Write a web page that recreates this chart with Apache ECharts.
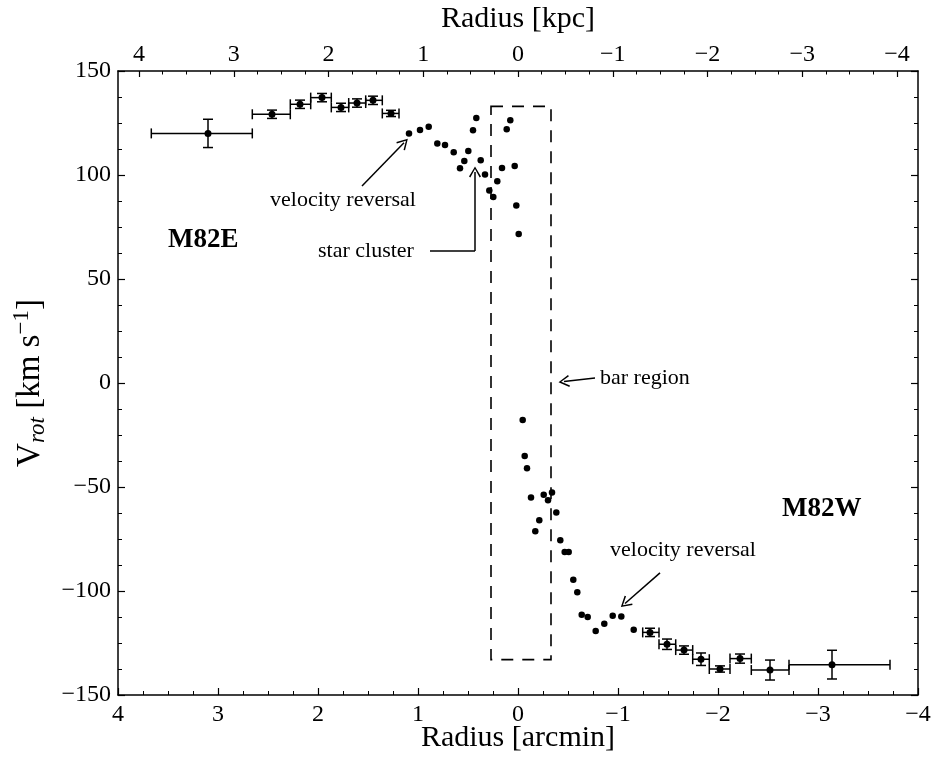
<!DOCTYPE html>
<html>
<head>
<meta charset="utf-8">
<script src="https://cdn.jsdelivr.net/npm/echarts@6/dist/echarts.min.js"></script>
<style>
  html, body { margin: 0; padding: 0; background: #fff; }
  #main { width: 938px; height: 758px; }
</style>
</head>
<body>
<div id="main"></div>
<script>
// points with error bars (radius in arcmin, velocity in km/s)
var ebR    = [3.10, 2.46, 2.18, 1.96, 1.77, 1.61, 1.45, 1.27, -1.32, -1.49, -1.66, -1.83, -2.02, -2.22, -2.52, -3.14];
var ebV    = [120.0, 129.2, 134.0, 137.2, 132.5, 134.6, 135.9, 129.6, -119.9, -125.6, -128.4, -132.8, -137.5, -132.5, -138.0, -135.4];
var ebRLo  = [3.667, 2.657, 2.277, 2.073, 1.867, 1.693, 1.523, 1.357, -1.247, -1.41, -1.577, -1.747, -1.913, -2.12, -2.333, -2.71];
var ebRHi  = [2.657, 2.277, 2.073, 1.867, 1.693, 1.523, 1.357, 1.19, -1.41, -1.577, -1.747, -1.913, -2.12, -2.333, -2.71, -3.72];
var ebErr  = [6.8, 2, 2, 2, 2, 2, 2, 1.5, 2, 2.5, 2, 3, 1.5, 2.2, 4.8, 6.9];

// inner points without error bars
var dotR = [1.09, 0.98, 0.893, 0.807, 0.73, 0.643, 0.497, 0.537, 0.58, 0.417, 0.45, 0.373, 0.33, 0.207, 0.287, 0.247, 0.16, 0.113, 0.077, 0.033, 0.017, -0.007,
            -0.047, -0.067, -0.09, -0.13, -0.257, -0.30, -0.34, -0.213, -0.173, -0.383, -0.423, -0.467, -0.507, -0.553, -0.593, -0.637, -0.697, -0.777, -0.863, -0.947, -1.033, -1.157];
var dotV = [120.0, 121.6, 123.2, 115.2, 114.4, 110.9, 111.5, 106.7, 103.2, 127.4, 121.5, 107.1, 100.3, 97.0, 92.5, 89.4, 103.4, 122.0, 126.3, 104.3, 85.3, 71.6,
            -17.8, -35.1, -41.0, -55.1, -53.7, -56.4, -52.7, -66.0, -71.3, -62.2, -75.6, -81.3, -81.3, -94.6, -100.6, -111.4, -112.5, -119.2, -115.7, -111.9, -112.2, -118.6];

// top axis (kpc)
var kpcTicks = [4, 3, 2, 1, 0, -1, -2, -3, -4];
var arcminPerKpc = 0.9475;

// bar region box
var barBox = [[0.27, 133], [-0.33, -133]];

var FONT = "'Liberation Serif', 'DejaVu Serif', serif";
var minus = function (v) { return String(v).replace('-', '\u2212'); };

var kpcMinor = [];
for (var k = -4.25; k <= 4.25001; k += 0.25) {
    if (Math.abs(k - Math.round(k)) > 1e-6) kpcMinor.push(k * arcminPerKpc);
}

var ebData = ebR.map(function (r, i) { return [r, ebV[i], ebRLo[i], ebRHi[i], ebErr[i]]; });
var dotData = dotR.map(function (r, i) { return [r, dotV[i]]; });
var ebPts = ebR.map(function (r, i) { return [r, ebV[i]]; });

var chevron = 'path://M5,0 L10,9 L8.9,9.7 L5,2.4 L1.1,9.7 L0,9 Z';

function renderErr(params, api) {
    var c = api.coord([api.value(0), api.value(1)]);
    var lo = api.coord([api.value(2), api.value(1)]);
    var hi = api.coord([api.value(3), api.value(1)]);
    var top = api.coord([api.value(0), api.value(1) + api.value(4)]);
    var bot = api.coord([api.value(0), api.value(1) - api.value(4)]);
    var cap = 5;
    var st = { stroke: '#000', lineWidth: 1.5 };
    var segs = [
        [lo[0], c[1], hi[0], c[1]],
        [lo[0], c[1] - cap, lo[0], c[1] + cap],
        [hi[0], c[1] - cap, hi[0], c[1] + cap],
        [c[0], top[1], c[0], bot[1]],
        [c[0] - cap, top[1], c[0] + cap, top[1]],
        [c[0] - cap, bot[1], c[0] + cap, bot[1]]
    ];
    return {
        type: 'group',
        children: segs.map(function (s) {
            return { type: 'line', shape: { x1: s[0], y1: s[1], x2: s[2], y2: s[3] }, style: st };
        })
    };
}

var axisCommon = {
    type: 'value',
    nameMoveOverlap: false,
    axisLine: { show: true, onZero: false, lineStyle: { color: '#000', width: 1.5 } },
    axisTick: { show: true, inside: true, length: 7, lineStyle: { color: '#000', width: 1.2 } },
    minorTick: { show: true, splitNumber: 4, length: 4, lineStyle: { color: '#000', width: 1 } },
    splitLine: { show: false },
    minorSplitLine: { show: false }
};

var option = {
    animation: false,
    backgroundColor: '#fff',
    grid: { left: 118, right: 20, top: 71, bottom: 63, containLabel: false, outerBoundsMode: 'none' },
    xAxis: [
        Object.assign({}, axisCommon, {
            position: 'bottom', min: -4, max: 4, interval: 1, inverse: true,
            name: 'Radius [arcmin]', nameLocation: 'middle', nameGap: 28,
            nameTextStyle: { fontFamily: FONT, fontSize: 30, color: '#000' },
            axisLabel: { fontFamily: FONT, fontSize: 24, color: '#000', margin: 8, formatter: minus }
        }),
        Object.assign({}, axisCommon, {
            position: 'top', min: -4, max: 4, inverse: true,
            minorTick: { show: false },
            axisTick: { show: true, inside: true, length: 6, customValues: kpcTicks.map(function (t) { return t * arcminPerKpc; }), lineStyle: { color: '#000', width: 1.2 } },
            axisLabel: {
                fontFamily: FONT, fontSize: 24, color: '#000', margin: 4,
                customValues: kpcTicks.map(function (t) { return t * arcminPerKpc; }),
                formatter: function (v) { return minus(Math.round(v / arcminPerKpc)); }
            },
            name: 'Radius [kpc]', nameLocation: 'middle', nameGap: 37,
            nameTextStyle: { fontFamily: FONT, fontSize: 30, color: '#000' }
        }),
        Object.assign({}, axisCommon, {
            position: 'top', min: -4, max: 4, inverse: true, offset: 0,
            axisLine: { show: false, onZero: false },
            minorTick: { show: false },
            axisTick: { show: true, inside: true, length: 3.5, customValues: kpcMinor, lineStyle: { color: '#000', width: 1 } },
            axisLabel: { show: false }
        })
    ],
    yAxis: [
        Object.assign({}, axisCommon, {
            position: 'left', min: -150, max: 150, interval: 50,
            axisLabel: { fontFamily: FONT, fontSize: 24, color: '#000', margin: 7, formatter: minus },
            name: '{v|V}{sub|rot}{v| [km s}{sup|\u22121}{v|]}',
            nameLocation: 'middle', nameRotate: 90, nameGap: 68,
            nameTextStyle: {
                fontFamily: FONT, fontSize: 33, color: '#000',
                rich: {
                    v: { fontFamily: FONT, fontSize: 33, color: '#000' },
                    sub: { fontFamily: FONT, fontSize: 23, fontStyle: 'italic', color: '#000', padding: [15, 0, 0, 0] },
                    sup: { fontFamily: FONT, fontSize: 23, color: '#000', padding: [0, 0, 17, 0] }
                }
            }
        }),
        Object.assign({}, axisCommon, {
            position: 'right', min: -150, max: 150, interval: 50,
            axisLabel: { show: false }
        })
    ],
    series: [
        {
            type: 'custom',
            xAxisIndex: 0, yAxisIndex: 0,
            renderItem: renderErr,
            data: ebData,
            z: 2
        },
        {
            type: 'scatter',
            xAxisIndex: 0, yAxisIndex: 0,
            data: ebPts,
            symbolSize: 7,
            itemStyle: { color: '#000', opacity: 1 },
            z: 3
        },
        {
            type: 'scatter',
            xAxisIndex: 0, yAxisIndex: 0,
            data: dotData,
            symbolSize: 6.5,
            itemStyle: { color: '#000', opacity: 1 },
            z: 3,
            markArea: {
                silent: true,
                itemStyle: { color: 'rgba(0,0,0,0)', borderColor: '#000', borderWidth: 1.6, borderType: [12, 9] },
                label: { show: false },
                data: [[{ coord: barBox[0] }, { coord: barBox[1] }]]
            },
            markLine: {
                silent: true,
                symbol: ['none', chevron],
                symbolSize: [12, 11],
                label: { show: false },
                lineStyle: { color: '#000', width: 1.5, type: 'solid' },
                data: [
                    [{ coord: [1.56, 94.7] }, { coord: [1.14, 115.5] }],
                    [{ coord: [0.88, 63.5], symbol: 'none' }, { coord: [0.43, 63.5], symbol: 'none' }],
                    [{ coord: [0.43, 63.5] }, { coord: [0.43, 101.5] }],
                    [{ coord: [-0.77, 2.4] }, { coord: [-0.46, 0.7] }],
                    [{ coord: [-1.42, -91.3] }, { coord: [-1.07, -106] }]
                ]
            }
        }
    ],
    graphic: [
        { type: 'text', left: 270, top: 189, style: { text: 'velocity reversal', font: '22px ' + FONT, fill: '#000' } },
        { type: 'text', left: 318, top: 240, style: { text: 'star cluster', font: '22px ' + FONT, fill: '#000' } },
        { type: 'text', left: 168, top: 227, style: { text: 'M82E', font: 'bold 27px ' + FONT, fill: '#000' } },
        { type: 'text', left: 600, top: 367, style: { text: 'bar region', font: '22px ' + FONT, fill: '#000' } },
        { type: 'text', left: 782, top: 496, style: { text: 'M82W', font: 'bold 27px ' + FONT, fill: '#000' } },
        { type: 'text', left: 610, top: 539, style: { text: 'velocity reversal', font: '22px ' + FONT, fill: '#000' } }
    ]
};

var chart = echarts.init(document.getElementById('main'));
chart.setOption(option);
</script>
</body>
</html>
